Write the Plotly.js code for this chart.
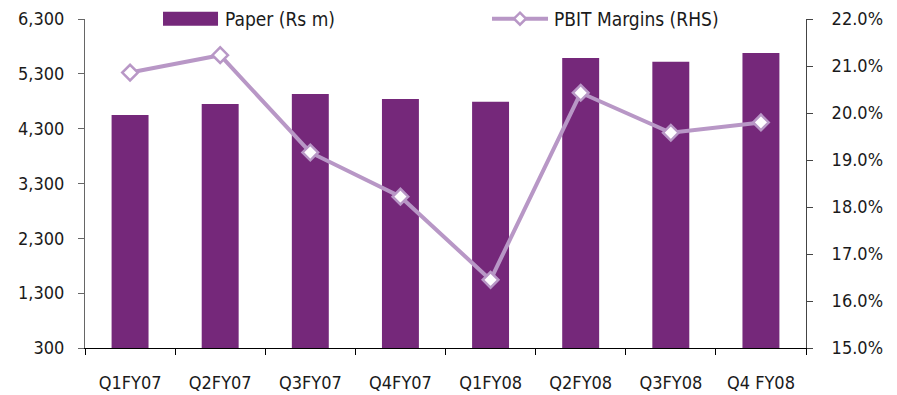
<!DOCTYPE html>
<html>
<head>
<meta charset="utf-8">
<script src="https://cdn.plot.ly/plotly-3.0.1.min.js"></script>
<style>html,body{margin:0;padding:0;background:#fff;}#chart{width:897px;height:395px;}</style>
</head>
<body>
<div id="chart"></div>
<script>
const quarters = ["Q1FY07","Q2FY07","Q3FY07","Q4FY07","Q1FY08","Q2FY08","Q3FY08","Q4 FY08"];
const paperRevenue = [4550, 4750, 4930, 4840, 4790, 5590, 5520, 5680];
const pbitMargin = [20.86, 21.23, 19.16, 18.22, 16.45, 20.43, 19.58, 19.80];
const leftTicks = [300, 1300, 2300, 3300, 4300, 5300, 6300];
const rightTicks = [15, 16, 17, 18, 19, 20, 21, 22];
const rightTickText = ["15.0%","16.0%","17.0%","18.0%","19.0%","20.0%","21.0%","22.0%"];
const seriesNames = ["Paper (Rs m)", "PBIT Margins (RHS)"];

const barColor = "#75287A";
const lineColor = "#B897C6";
const fontFam = "'DejaVu Sans Condensed', 'DejaVu Sans', sans-serif";
const fs = 18;

const traces = [
  {
    type: "bar", x: quarters, y: paperRevenue, name: seriesNames[0],
    marker: {color: barColor}, width: 0.41, yaxis: "y", showlegend: false,
    hoverinfo: "x+y"
  },
  {
    type: "scatter", mode: "lines+markers", x: quarters, y: pbitMargin, name: seriesNames[1],
    yaxis: "y2", showlegend: false,
    line: {color: lineColor, width: 4},
    marker: {symbol: "diamond", size: 12, color: "#ffffff", line: {color: lineColor, width: 2.5}}
  }
];

const layout = {
  width: 897, height: 395,
  margin: {l: 85, r: 91, t: 19, b: 47},
  paper_bgcolor: "#ffffff", plot_bgcolor: "#ffffff",
  font: {family: fontFam, size: fs, color: "#1a1a1a"},
  xaxis: {
    type: "category", tickson: "boundaries", ticks: "outside", ticklen: 6, tickcolor: "#000",
    showline: true, linecolor: "#000", linewidth: 1, showgrid: false, zeroline: false,
    ticklabelstandoff: 18, tickfont: {family: fontFam, size: fs, color: "#1a1a1a"}
  },
  yaxis: {
    range: [300, 6300], tickvals: leftTicks, tickformat: ",d", ticks: "outside", ticklen: 6,
    tickcolor: "#666", showline: true, linecolor: "#666", linewidth: 1, showgrid: false, zeroline: false,
    ticklabelstandoff: 10, tickfont: {family: fontFam, size: fs, color: "#1a1a1a"}
  },
  yaxis2: {
    overlaying: "y", side: "right", range: [15, 22], tickvals: rightTicks, ticktext: rightTickText,
    ticks: "outside", ticklen: 6, tickcolor: "#444", showline: true, linecolor: "#444", linewidth: 1,
    showgrid: false, zeroline: false, ticklabelstandoff: 15,
    tickfont: {family: fontFam, size: fs, color: "#1a1a1a"}
  },
  shapes: [
    {type: "rect", xref: "paper", yref: "paper", x0: 0.1082, x1: 0.1845, y0: 0.9796, y1: 1.0222,
     fillcolor: barColor, line: {width: 0}, layer: "above"},
    {type: "line", xref: "paper", yref: "paper", x0: 0.5645, x1: 0.6422, y0: 1.0009, y1: 1.0009,
     line: {color: lineColor, width: 4}, layer: "above"},
    {type: "path", xref: "paper", yref: "paper",
     path: "M 0.6033 1.0191 L 0.6116 1.0009 L 0.6033 0.9827 L 0.5950 1.0009 Z",
     fillcolor: "#ffffff", line: {color: lineColor, width: 2.5}, layer: "above"}
  ],
  annotations: [
    {xref: "paper", yref: "paper", x: 0.192, y: 1.0009, xanchor: "left", yanchor: "middle",
     text: seriesNames[0], showarrow: false, font: {family: fontFam, size: 19, color: "#1a1a1a"}},
    {xref: "paper", yref: "paper", x: 0.6477, y: 1.0009, xanchor: "left", yanchor: "middle",
     text: seriesNames[1], showarrow: false, font: {family: fontFam, size: 19, color: "#1a1a1a"}}
  ]
};

Plotly.newPlot("chart", traces, layout, {displayModeBar: false, staticPlot: true});
</script>
</body>
</html>
